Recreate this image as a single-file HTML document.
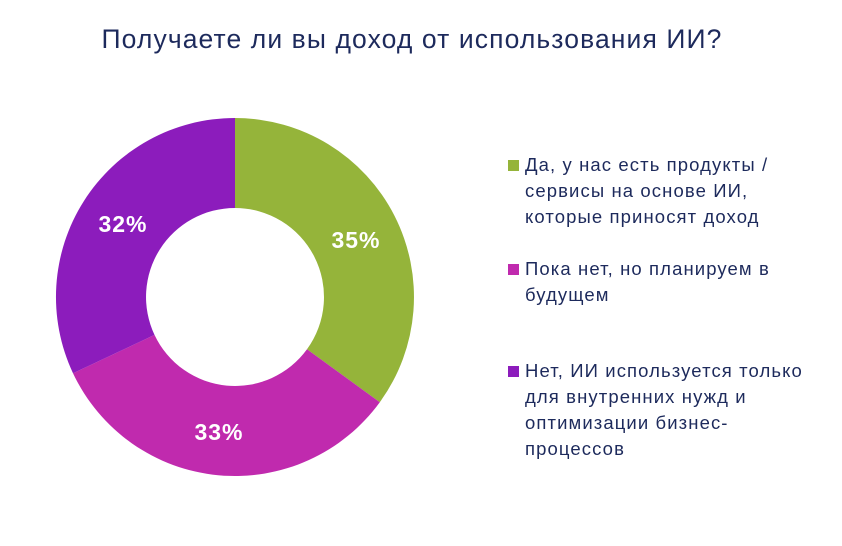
<!DOCTYPE html>
<html><head><meta charset="utf-8"><style>
body{margin:0;width:842px;height:546px;background:#fff;font-family:"Liberation Sans",sans-serif;color:#1d2a5c;position:relative;overflow:hidden}
.t{position:absolute;left:-9px;width:842px;top:24px;text-align:center;font-size:26.5px;letter-spacing:1.1px;color:#1d2a5c}
.lg{position:absolute;left:525px;font-size:18.5px;letter-spacing:1.1px;line-height:26px;white-space:nowrap}
.sq{position:absolute;left:-17px;top:8px;width:11px;height:11px}
</style></head><body>
<div class="t">Получаете ли вы доход от использования ИИ?</div>
<svg width="842" height="546" style="position:absolute;left:0;top:0">
<path d="M235,118 A179,179 0 0 1 379.8,402.2 L307,349.3 A89,89 0 0 0 235,208 Z" fill="#95b43a"/>
<path d="M379.8,402.2 A179,179 0 0 1 73,373.2 L154.5,334.9 A89,89 0 0 0 307,349.3 Z" fill="#c02aae"/>
<path d="M73,373.2 A179,179 0 0 1 235,118 L235,208 A89,89 0 0 0 154.5,334.9 Z" fill="#8c1cbc"/>
<g font-family="Liberation Sans,sans-serif" font-weight="bold" font-size="23" letter-spacing="1" fill="#fff" text-anchor="middle">
<text x="356" y="248">35%</text>
<text x="219" y="440">33%</text>
<text x="123" y="232">32%</text>
</g>
</svg>
<div class="lg" style="top:152px"><div class="sq" style="background:#95b43a"></div>Да, у нас есть продукты /<br>сервисы на основе ИИ,<br>которые приносят доход</div>
<div class="lg" style="top:256px"><div class="sq" style="background:#c02aae"></div>Пока нет, но планируем в<br>будущем</div>
<div class="lg" style="top:358px"><div class="sq" style="background:#8c1cbc"></div>Нет, ИИ используется только<br>для внутренних нужд и<br>оптимизации бизнес-<br>процессов</div>
</body></html>
